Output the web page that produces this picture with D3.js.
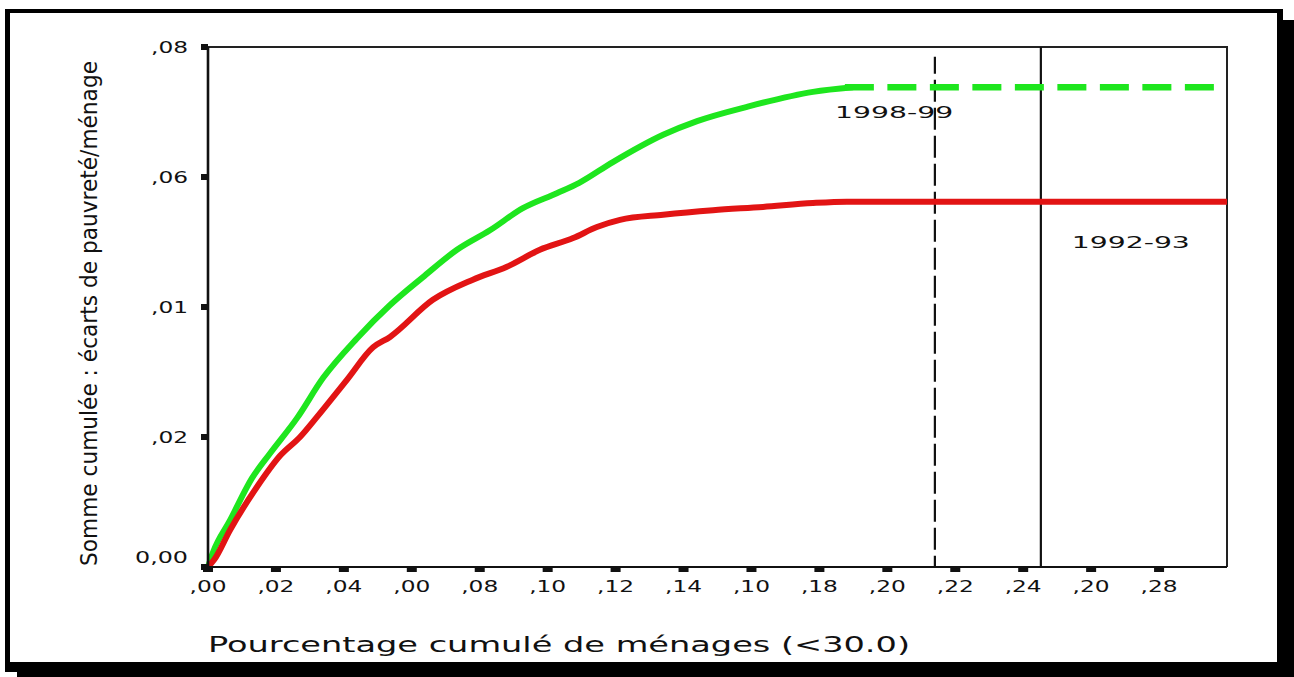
<!DOCTYPE html>
<html>
<head>
<meta charset="utf-8">
<script src="https://cdn.jsdelivr.net/npm/d3@7"></script>
<style>
  html, body { margin: 0; padding: 0; background: #ffffff; }
  svg { display: block; }
</style>
</head>
<body>
<script>
// Cumulative poverty-gap curves (TIP-style) for two survey years
const pop1998 = [0, 0.0015, 0.0065, 0.0130, 0.0183, 0.0262, 0.0339, 0.0439, 0.0536, 0.0633,
                 0.0733, 0.0830, 0.0927, 0.1027, 0.1093, 0.1192, 0.1340, 0.1440, 0.1587, 0.1781, 0.1899];
const gap1998 = [0, 0.0023, 0.0072, 0.0137, 0.0175, 0.0229, 0.0291, 0.0352, 0.0403, 0.0446,
                 0.0488, 0.0518, 0.0552, 0.0575, 0.0591, 0.0623, 0.0665, 0.0686, 0.0708, 0.0731, 0.0738];
// flat tail of the 1998-99 curve, drawn dashed
const tail1998 = [0.1875, 0.2965];

const pop1992 = [0, 0.0018, 0.0065, 0.0144, 0.0212, 0.0271, 0.0321, 0.0409, 0.0486, 0.0536, 0.0662,
                 0.0780, 0.0880, 0.0977, 0.1075, 0.1145, 0.1213, 0.1340, 0.1487, 0.1634, 0.1781, 0.1881, 0.30];
const gap1992 = [0, 0.0011, 0.0057, 0.0123, 0.0171, 0.0200, 0.0231, 0.0288, 0.0338, 0.0354, 0.0411,
                 0.0442, 0.0462, 0.0488, 0.0506, 0.0523, 0.0534, 0.0542, 0.0549, 0.0554, 0.0560, 0.0562, 0.0562];

// headcount markers (share of households under the line)
const lineShares = [0.2140, 0.2452];
const lineTops = [0.0785, 0.08];
const lineDashed = [true, false];

const seriesNames = ["1998-99", "1992-93"];
const labelX = [0.2020, 0.2717];
const labelY = [0.0700, 0.0500];

const xTicks = [0, 0.02, 0.04, 0.06, 0.08, 0.10, 0.12, 0.14, 0.16, 0.18, 0.20, 0.22, 0.24, 0.26, 0.28];
const xTickLabels = [",00", ",02", ",04", ",00", ",08", ",10", ",12", ",14", ",10", ",18", ",20", ",22", ",24", ",20", ",28"];
const yTicks = [0, 0.02, 0.04, 0.06, 0.08];
const yTickLabels = ["0,00", ",02", ",01", ",06", ",08"];

const xTitle = "Pourcentage cumulé de ménages (<30.0)";
const yTitle = "Somme cumulée : écarts de pauvreté/ménage";

const W = 1294, H = 677;
const GREEN = "#1ee61e", RED = "#e21414", INK = "#111111";

const svg = d3.select("body").append("svg").attr("width", W).attr("height", H);

// page frame with drop shadow
svg.append("rect").attr("x", 17).attr("y", 20).attr("width", W - 17).attr("height", H - 20).attr("fill", "#000");
svg.append("rect").attr("x", 5).attr("y", 9).attr("width", 1278).attr("height", 663).attr("fill", "#000");
svg.append("rect").attr("x", 10).attr("y", 13).attr("width", 1267).attr("height", 649).attr("fill", "#fff");

const x = d3.scaleLinear().domain([0, 0.30]).range([208, 1227]);
const y = d3.scaleLinear().domain([0, 0.08]).range([567, 47]);

// plot box (top and right sides)
svg.append("path")
  .attr("d", `M${x(0)},${y(0.08)}H${x(0.30)}V${y(0)}`)
  .attr("fill", "none").attr("stroke", "#222").attr("stroke-width", 2);

// vertical reference lines
lineShares.forEach((s, i) => {
  svg.append("line")
    .attr("x1", x(s)).attr("x2", x(s))
    .attr("y1", y(lineTops[i])).attr("y2", y(0))
    .attr("stroke", INK).attr("stroke-width", 2.2)
    .attr("stroke-dasharray", lineDashed[i] ? "22,6" : null)
    .attr("stroke-dashoffset", lineDashed[i] ? 5 : null);
});

const line = d3.line().x(d => x(d[0])).y(d => y(d[1])).curve(d3.curveMonotoneX);

// 1998-99 curve and its dashed plateau
svg.append("path")
  .datum(pop1998.map((p, i) => [p, gap1998[i]]))
  .attr("d", line).attr("fill", "none")
  .attr("stroke", GREEN).attr("stroke-width", 6).attr("stroke-linejoin", "round");
const lastGap = gap1998[gap1998.length - 1];
svg.append("path")
  .datum(tail1998.map(p => [p, lastGap]))
  .attr("d", line).attr("fill", "none")
  .attr("stroke", GREEN).attr("stroke-width", 6.5).attr("stroke-dasharray", "29,13.5");

// 1992-93 curve
svg.append("path")
  .datum(pop1992.map((p, i) => [p, gap1992[i]]))
  .attr("d", line).attr("fill", "none")
  .attr("stroke", RED).attr("stroke-width", 6).attr("stroke-linejoin", "round");

// axes lines
svg.append("line").attr("x1", x(0)).attr("x2", x(0)).attr("y1", y(0.08)).attr("y2", y(0) + 1)
  .attr("stroke", INK).attr("stroke-width", 2.6);
svg.append("line").attr("x1", x(0)).attr("x2", x(0.30)).attr("y1", y(0)).attr("y2", y(0))
  .attr("stroke", INK).attr("stroke-width", 2.2);

// tick marks: small solid blocks outside the axes
svg.selectAll(".xt").data(xTicks).enter().append("rect")
  .attr("x", d => x(d) - 5).attr("y", y(0)).attr("width", 10).attr("height", 5).attr("fill", INK);
svg.selectAll(".yt").data(yTicks).enter().append("rect")
  .attr("x", x(0) - 7).attr("y", d => y(d) - 3).attr("width", 7).attr("height", 6).attr("fill", INK);

const tickFont = "'DejaVu Sans', Verdana, sans-serif";
const labelLen = s => 16 * (s.length - 1) + 5;

svg.selectAll(".xl").data(xTicks).enter().append("text")
  .attr("x", d => x(d)).attr("y", 592)
  .attr("text-anchor", "middle")
  .attr("font-family", tickFont).attr("font-size", 16).attr("fill", INK)
  .attr("textLength", (d, i) => labelLen(xTickLabels[i]))
  .attr("lengthAdjust", "spacingAndGlyphs")
  .text((d, i) => xTickLabels[i]);

svg.selectAll(".yl").data(yTicks).enter().append("text")
  .attr("x", 188).attr("y", d => y(d) + (d === 0 ? -4 : 6))
  .attr("text-anchor", "end")
  .attr("font-family", tickFont).attr("font-size", 16).attr("fill", INK)
  .attr("textLength", (d, i) => labelLen(yTickLabels[i]))
  .attr("lengthAdjust", "spacingAndGlyphs")
  .text((d, i) => yTickLabels[i]);

// series labels
seriesNames.forEach((name, i) => {
  svg.append("text")
    .attr("x", x(labelX[i])).attr("y", y(labelY[i]) + 6)
    .attr("text-anchor", "middle")
    .attr("font-family", tickFont).attr("font-size", 16).attr("fill", INK)
    .attr("textLength", 118).attr("lengthAdjust", "spacingAndGlyphs")
    .text(name);
});

// axis titles
svg.append("text")
  .attr("x", 208).attr("y", 652)
  .attr("font-family", tickFont).attr("font-size", 21).attr("fill", INK)
  .attr("textLength", 702).attr("lengthAdjust", "spacingAndGlyphs")
  .text(xTitle);

svg.append("text")
  .attr("transform", "translate(97,566) rotate(-90)")
  .attr("font-family", "'Liberation Sans Narrow', 'DejaVu Sans Condensed', 'Liberation Sans', sans-serif")
  .attr("font-size", 23).attr("fill", INK)
  .attr("textLength", 505).attr("lengthAdjust", "spacingAndGlyphs")
  .text(yTitle);
</script>
</body>
</html>
